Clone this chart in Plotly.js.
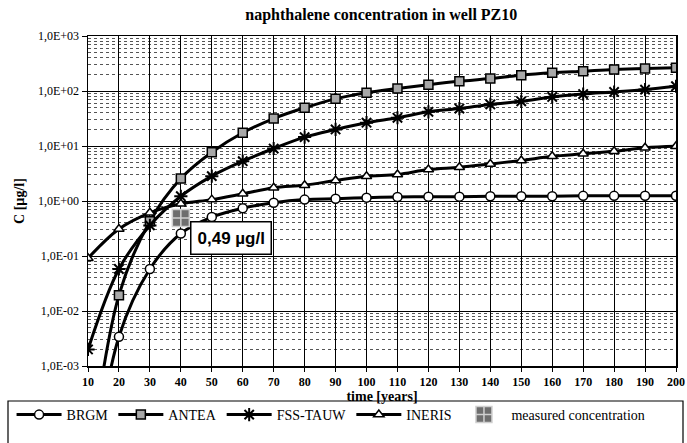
<!DOCTYPE html>
<html>
<head>
<meta charset="utf-8">
<script src="https://cdn.plot.ly/plotly-3.0.1.min.js"></script>
<style>html,body{margin:0;padding:0;background:#fff;}#chart{width:687px;height:443px;}</style>
</head>
<body>
<div id="chart"></div>
<script>
// ---- data ----
var years = [10,20,30,40,50,60,70,80,90,100,110,120,130,140,150,160,170,180,190,200];
var brgm = [0.000003,0.0034,0.058,0.257,0.51,0.74,0.93,1.06,1.1,1.15,1.18,1.2,1.2,1.22,1.22,1.22,1.24,1.24,1.25,1.25];
var antea = [0.00001,0.0194,0.43,2.56,7.7,17.4,31.6,49.5,72,92.7,111,130,150,168,194,214,229,246,257,264];
var fssTauw = [0.002,0.058,0.36,1.22,2.83,5.3,9.0,14.5,20,26.5,32.6,41.8,48,57,65,78,88,96,106,122];
var ineris = [0.091,0.31,0.61,0.89,1.06,1.35,1.74,1.94,2.36,2.82,3.03,3.73,4.1,4.7,5.45,6.5,7.2,8.0,9.3,9.9];
var measuredYear = [40];
var measuredConc = [0.49];
var measuredLabel = "0,49 µg/l";
var yTickVals = [0.001,0.01,0.1,1,10,100,1000];
var yTickText = ["1,0E-03","1,0E-02","1,0E-01","1,0E+00","1,0E+01","1,0E+02","1,0E+03"];
var xTickVals = years;

// minor grid positions (2..9 per decade)
var minorVals = [];
for (var e = -3; e < 3; e++) { for (var d = 2; d <= 9; d++) { minorVals.push(d * Math.pow(10, e)); } }

var serif = "Liberation Serif";
var lineStyle = {color: "#000", width: 3, shape: "spline"};

var traces = [
  {x: years, y: brgm, name: "BRGM", mode: "lines+markers", line: lineStyle,
   marker: {symbol: "circle", size: 9, color: "#fff", line: {color: "#000", width: 1.5}}},
  {x: years, y: antea, name: "ANTEA", mode: "lines+markers", line: lineStyle,
   marker: {symbol: "square", size: 9, color: "#a8a8a8", line: {color: "#000", width: 1.5}}},
  {x: years, y: fssTauw, name: "FSS-TAUW", mode: "lines+markers", line: lineStyle,
   marker: {symbol: "asterisk-open", size: 11, color: "#000", line: {color: "#000", width: 2}}},
  {x: years, y: ineris, name: "INERIS", mode: "lines+markers", line: lineStyle,
   marker: {symbol: "triangle-up", size: 9, color: "#fff", line: {color: "#000", width: 1.5}}},
  {x: measuredYear, y: measuredConc, name: "measured concentration", mode: "markers",
   marker: {symbol: "square-cross", size: 17, color: "#6e6e6e", line: {color: "#d0d0d0", width: 1.5}}}
];

var layout = {
  width: 687, height: 443,
  margin: {l: 88, r: 11, t: 36, b: 77},
  paper_bgcolor: "#fff", plot_bgcolor: "#fff",
  font: {family: serif, color: "#000", size: 12},
  title: {text: "<b>naphthalene concentration in well PZ10</b>", x: 0.555, xanchor: "center", y: 0.967, yanchor: "middle",
          font: {family: serif, size: 16, color: "#000"}},
  showlegend: true,
  legend: {orientation: "h", x: -0.13, xanchor: "left", y: -0.1, yanchor: "top",
           font: {family: serif, size: 14, color: "#000"}, bgcolor: "rgba(0,0,0,0)", itemwidth: 45,
           tracegroupgap: 0},
  xaxis: {
    range: [10, 200], tickmode: "array", tickvals: xTickVals, ticktext: xTickVals.map(function(v){return "<b>"+v+"</b>";}),
    showgrid: true, gridcolor: "#000", gridwidth: 1, zeroline: false,
    showline: true, linecolor: "#000", linewidth: 1.5, mirror: true,
    ticks: "outside", ticklen: 4, tickcolor: "#000",
    tickfont: {family: serif, size: 12, color: "#000"},
    title: {text: "<b>time [years]</b>", font: {family: serif, size: 14, color: "#000"}, standoff: 2}
  },
  yaxis: {
    type: "log", range: [-3, 3], tickmode: "array", tickvals: yTickVals, ticktext: yTickText,
    showgrid: true, gridcolor: "#000", gridwidth: 1, zeroline: false,
    showline: true, linecolor: "#000", linewidth: 1.5, mirror: true,
    ticks: "outside", ticklen: 5, tickcolor: "#000",
    tickfont: {family: serif, size: 12, color: "#000"},
    minor: {tickmode: "array", tickvals: minorVals, showgrid: true, gridcolor: "#555", griddash: "dot", gridwidth: 1, ticks: ""},
    title: {text: "<b>C [µg/l]</b>", font: {family: serif, size: 14, color: "#000"}, standoff: 10}
  },
  annotations: [{
    x: measuredYear[0], y: Math.log10(measuredConc[0]), xref: "x", yref: "y",
    text: "<b>" + measuredLabel + "</b>", showarrow: false,
    xanchor: "left", yanchor: "top", xshift: 9, yshift: -3,
    font: {family: "Liberation Sans", size: 17, color: "#000"},
    bgcolor: "#fff", bordercolor: "#000", borderwidth: 1.5, borderpad: 6
  }],
  shapes: [{
    type: "rect", xref: "paper", yref: "paper",
    x0: (8 - 88) / 588, x1: (683 - 88) / 588, y0: (330 - (401 - 36)) / 330, y1: (330 - (450 - 36)) / 330,
    line: {color: "#000", width: 1.2}, fillcolor: "rgba(0,0,0,0)"
  }]
};

Plotly.newPlot("chart", traces, layout, {displayModeBar: false, staticPlot: true});
</script>
</body>
</html>
